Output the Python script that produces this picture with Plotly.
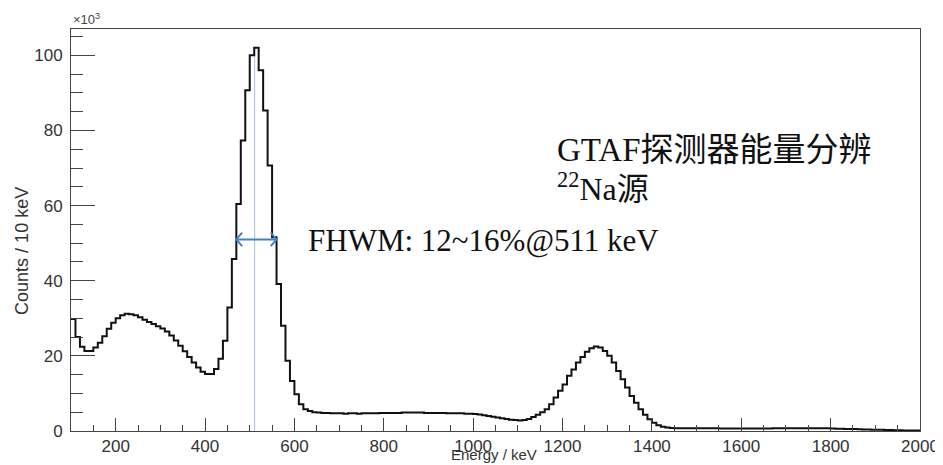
import plotly.graph_objects as go

# ---------------- data ----------------
BIN_START = 100      # keV
BIN_WIDTH = 10       # keV
PEAK_ENERGY = 511    # keV, marked line

# counts per 10 keV bin, in units of 10^3, bins from 100 keV to 2000 keV
counts_k = [
    # 100-190
    29.8, 25.0, 22.4, 21.3, 21.3, 22.2, 23.5, 25.2, 27.2, 28.8,
    # 200-290
    30.0, 30.8, 31.2, 31.1, 30.8, 30.3, 29.6, 29.0, 28.5, 27.9,
    # 300-390
    27.3, 26.5, 25.4, 24.1, 22.7, 21.2, 19.7, 18.2, 16.9, 15.8,
    # 400-490
    15.2, 15.2, 16.5, 19.2, 24.0, 32.9, 45.8, 60.4, 77.3, 90.7,
    # 500-590
    100.0, 102.0, 96.0, 85.3, 70.7, 51.6, 39.1, 28.0, 18.7, 13.3,
    # 600-690
    9.8, 7.1, 5.8, 5.3, 5.0, 4.9, 4.8, 4.8, 4.7, 4.7,
    # 700-790
    4.7, 4.6, 4.7, 4.7, 4.6, 4.7, 4.7, 4.7, 4.7, 4.8,
    # 800-890
    4.8, 4.8, 4.8, 4.8, 4.9, 4.9, 4.9, 4.9, 4.9, 4.8,
    # 900-990
    4.8, 4.8, 4.8, 4.8, 4.7, 4.7, 4.7, 4.7, 4.6, 4.6,
    # 1000-1090
    4.5, 4.4, 4.2, 4.0, 3.8, 3.6, 3.4, 3.2, 3.0, 2.9,
    # 1100-1190
    2.8, 2.9, 3.2, 3.7, 4.3, 5.0, 5.8, 7.1, 8.9, 10.7,
    # 1200-1290
    12.4, 14.7, 16.4, 18.2, 19.7, 21.1, 22.0, 22.5, 22.2, 21.3,
    # 1300-1390
    20.0, 18.2, 16.0, 13.8, 11.6, 9.3, 7.5, 5.8, 4.3, 3.1,
    # 1400-1490
    2.2, 1.5, 1.1, 0.9, 0.8, 0.75, 0.7, 0.7, 0.7, 0.7,
    # 1500-1590
    0.7, 0.7, 0.7, 0.7, 0.7, 0.65, 0.65, 0.65, 0.65, 0.65,
    # 1600-1690
    0.65, 0.65, 0.65, 0.65, 0.65, 0.65, 0.65, 0.7, 0.7, 0.7,
    # 1700-1790
    0.7, 0.7, 0.7, 0.7, 0.7, 0.7, 0.7, 0.7, 0.7, 0.7,
    # 1800-1890
    0.65, 0.6, 0.6, 0.55, 0.5, 0.5, 0.45, 0.4, 0.4, 0.35,
    # 1900-1990
    0.3, 0.3, 0.25, 0.25, 0.2, 0.2, 0.15, 0.15, 0.1, 0.1,
]

x_tick_vals = [200, 400, 600, 800, 1000, 1200, 1400, 1600, 1800, 2000]
y_tick_vals = [0, 20, 40, 60, 80, 100]

title_line1 = "GTAF探测器能量分辨"
title_line2 = "<sup>22</sup>Na源"
fwhm_label = "FHWM: 12~16%@511 keV"

# ---------------- derived ----------------
edges = [BIN_START + BIN_WIDTH * i for i in range(len(counts_k) + 1)]
step_y = counts_k + [counts_k[-1]]

peak = max(counts_k)
half = peak / 2.0
above = [i for i, c in enumerate(counts_k) if c >= half]
fw_left = edges[above[0]]
fw_right = edges[above[-1] + 1]

ARROW_COLOR = "#4a7fc1"
head_dx = 13.0   # keV
head_dy = 1.8    # 10^3 counts

fig = go.Figure()

# 511 keV marker line
fig.add_trace(go.Scatter(
    x=[PEAK_ENERGY, PEAK_ENERGY], y=[0, peak],
    mode="lines", line=dict(color="#a9bddb", width=1),
    hoverinfo="skip"))

# histogram
fig.add_trace(go.Scatter(
    x=edges, y=step_y, mode="lines",
    line=dict(color="#111111", width=2, shape="hv"),
    hoverinfo="skip"))

# FWHM double arrow
fig.add_trace(go.Scatter(
    x=[fw_left, fw_right], y=[half, half], mode="lines",
    line=dict(color=ARROW_COLOR, width=2), hoverinfo="skip"))
fig.add_trace(go.Scatter(
    x=[fw_left + head_dx, fw_left, fw_left + head_dx],
    y=[half + head_dy, half, half - head_dy], mode="lines",
    line=dict(color=ARROW_COLOR, width=2), hoverinfo="skip"))
fig.add_trace(go.Scatter(
    x=[fw_right - head_dx, fw_right, fw_right - head_dx],
    y=[half + head_dy, half, half - head_dy], mode="lines",
    line=dict(color=ARROW_COLOR, width=2), hoverinfo="skip"))

axis_color = "#444444"
tick_font = dict(family="Liberation Sans, Arial, sans-serif", size=17, color="#333333")

fig.update_xaxes(
    range=[BIN_START, edges[-1]],
    tickvals=x_tick_vals,
    ticks="inside", ticklen=13, tickwidth=1, tickcolor=axis_color,
    minor=dict(dtick=50, tick0=0, ticks="inside", ticklen=6, tickcolor=axis_color, showgrid=False),
    showline=True, linecolor=axis_color, linewidth=1, mirror=True,
    showgrid=False, zeroline=False, tickfont=tick_font,
    automargin=False,
)
fig.update_yaxes(
    range=[0, 107],
    tickvals=y_tick_vals,
    ticks="inside", ticklen=24, tickwidth=1, tickcolor=axis_color,
    minor=dict(dtick=5, tick0=0, ticks="inside", ticklen=12, tickcolor=axis_color, showgrid=False),
    showline=True, linecolor=axis_color, linewidth=1, mirror=True,
    showgrid=False, zeroline=False, tickfont=tick_font,
    ticklabelstandoff=4, automargin=False,
)

serif_cjk = "Liberation Serif, Times New Roman, Noto Sans CJK SC, serif"
label_font = dict(family="Liberation Sans, Arial, sans-serif", size=18, color="#333333")

# the page body adds an 8px offset, so the figure is sized to the remaining viewport
fig.update_layout(
    width=935, height=457,
    margin=dict(l=63, r=23, t=21, b=34),
    plot_bgcolor="white", paper_bgcolor="white",
    showlegend=False,
    annotations=[
        dict(text="×10<sup>3</sup>", xref="paper", yref="paper", x=0, y=1,
             xanchor="left", yanchor="bottom", showarrow=False,
             font=dict(family="Liberation Sans, Arial, sans-serif", size=13, color="#444444")),
        dict(text="Counts / 10 keV", xref="paper", yref="paper",
             x=-0.0577, y=0.448, textangle=-90, xanchor="center", yanchor="middle",
             showarrow=False, font=label_font),
        dict(text="Energy / keV", xref="paper", yref="paper",
             x=0.498, y=-0.0846, xanchor="center", yanchor="bottom",
             showarrow=False, font=dict(family="Liberation Sans, Arial, sans-serif", size=15, color="#333333")),
        dict(text=title_line1, xref="x", yref="y", x=1183, y=74.7,
             xanchor="left", yanchor="middle", showarrow=False,
             font=dict(family=serif_cjk, size=33, color="#111111")),
        dict(text=title_line2, xref="x", yref="y", x=1183, y=65.0,
             xanchor="left", yanchor="middle", showarrow=False,
             font=dict(family=serif_cjk, size=32, color="#111111")),
        dict(text=fwhm_label, xref="x", yref="y", x=625, y=50.6,
             xanchor="left", yanchor="middle", showarrow=False,
             font=dict(family=serif_cjk, size=31, color="#111111")),
    ],
)

fig.write_html("out.html")
